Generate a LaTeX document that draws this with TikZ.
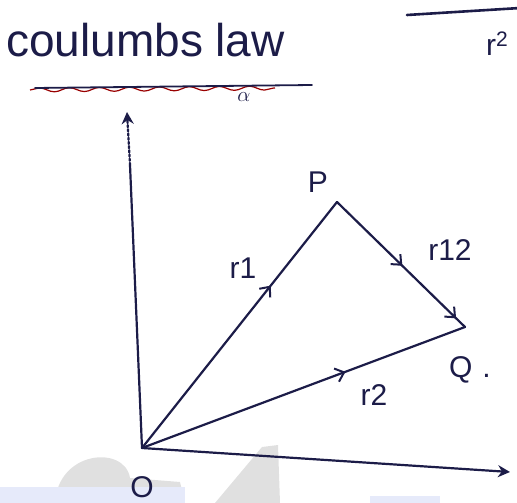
\documentclass[tikz,border=0pt]{standalone}
\usepackage{fontspec}
\setmainfont{Liberation Sans}
\usepackage{tikz}
\usetikzlibrary{arrows.meta,decorations.markings,decorations.pathmorphing,backgrounds}
\definecolor{ink}{RGB}{28,28,72}
\definecolor{wmgrey}{RGB}{224,224,224}
\definecolor{wmblue}{RGB}{230,234,250}
\tikzset{
  pen/.style   = {draw=ink, line width=2.2pt, line cap=round, line join=round},
  mid/.style   = {postaction={decorate, decoration={markings,
                  mark=at position #1 with {\arrow[ink, line width=2pt]{Straight Barb[length=8pt,width=14pt]}}}}},
  ax/.style    = {pen, -{Stealth[length=12pt,width=12pt]}},
  lbl/.style   = {text=ink, font=\fontsize{30}{30}\selectfont, inner sep=0pt},
  ttl/.style   = {text=ink, font=\fontsize{46}{46}\selectfont, inner sep=0pt, anchor=west}
}
\begin{document}
\begin{tikzpicture}[x=1pt, y=-1pt]
    \useasboundingbox (0,0) rectangle (517,503);
    \clip (0,0) rectangle (517,503);

    % ---- watermark ----
    \begin{scope}[on background layer]
      \fill[wmgrey] (55,503) .. controls (58,450) and (125,445) .. (130,478)
                    -- (180,482) -- (185,503) -- cycle;
      \fill[wmblue] (0,487) rectangle (185,503);
      \fill[wmgrey] (215,503) -- (262,447) -- (278,445) -- (280,503) -- cycle;
      \fill[wmblue] (370,496) rectangle (440,503);
    \end{scope}

    % ---- heading ----
    \node[ttl] (title) at (6,40) {coulumbs law};
    \coordinate (ula) at (30,90);
    \coordinate (ulb) at (275,88);
    \coordinate (ulc) at (35,88);
    \coordinate (uld) at (312,85);
    \draw[red!60!black, line width=1.2pt, decorate,
          decoration={snake, amplitude=2pt, segment length=30pt}] (ula) -- (ulb);
    \draw[pen, line width=1.8pt] (ulc) -- (uld);
    \node[lbl, font=\fontsize{20}{20}\selectfont] (alpha) at (244,97) {$\alpha$};

    % ---- fraction in the corner ----
    \coordinate (fa) at (407,15);
    \coordinate (fb) at (520,8);
    \draw[pen, line width=2.6pt] (fa) -- (fb);
    \node[lbl, anchor=west] (rsq) at (486,44) {r\textsuperscript{2}};

    % ---- points ----
    \coordinate (O) at (142,448);
    \coordinate (P) at (337,202);
    \coordinate (Q) at (465,327);
    \coordinate (yend) at (127,112);
    \coordinate (ybrk) at (130,165);
    \coordinate (xend) at (510,472);

    % ---- axes ----
    \draw[pen] (O) -- (ybrk);
    \draw[ax, dotted] (ybrk) -- (yend);
    \draw[ax] (O) -- (xend);

    % ---- vectors ----
    \draw[pen, mid=0.66] (O) -- (P);
    \draw[pen, mid=0.51, mid=0.93] (P) -- (Q);
    \draw[pen, mid=0.63] (O) -- (Q);

    % ---- labels ----
    \node[lbl] (lP)   at (318,182) {P};
    \node[lbl] (lr1)  at (243,268) {r1};
    \node[lbl] (lr12) at (450,250) {r12};
    \node[lbl] (lr2)  at (374,395) {r2};
    \node[lbl] (lQ)   at (470,370) {Q\,\,.};
    \node[lbl] (lO)   at (142,487) {O};
\end{tikzpicture}
\end{document}
